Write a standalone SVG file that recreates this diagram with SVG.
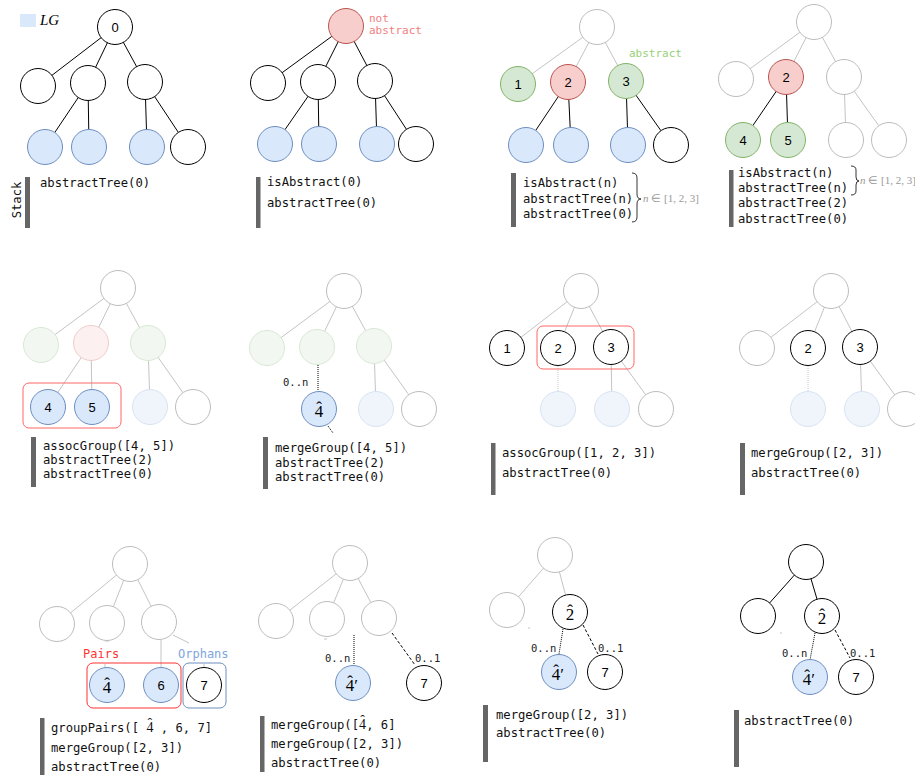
<svg xmlns="http://www.w3.org/2000/svg" width="915" height="775" viewBox="0 0 915 775">
<style>
.k{fill:#fff;stroke:#000;stroke-width:1}
.g{fill:#fff;stroke:#bcbcbc;stroke-width:1}
.b{fill:#dae8fc;stroke:#6c8ebf;stroke-width:1}
.r{fill:#f8cecc;stroke:#b85450;stroke-width:1}
.gr{fill:#d5e8d4;stroke:#82b366;stroke-width:1}
.fg{fill:#f2f8f1;stroke:#d9e8d5;stroke-width:1}
.fr{fill:#fcf0f0;stroke:#f0cccb;stroke-width:1}
.fb{fill:#f0f5fc;stroke:#d8e3f3;stroke-width:1}
.ek{stroke:#000;stroke-width:1;fill:none}
.eg{stroke:#c4c4c4;stroke-width:1;fill:none}
.dot{stroke:#000;stroke-width:1;stroke-dasharray:1 1;fill:none}
.dotg{stroke:#c8c8c8;stroke-width:1;stroke-dasharray:1 1;fill:none}
.dash{stroke:#000;stroke-width:1;stroke-dasharray:3 2;fill:none}
.bar{fill:#666}
.code{font-family:"DejaVu Sans Mono",monospace;font-size:12.2px;fill:#111}
.sm{font-family:"DejaVu Sans Mono",monospace;font-size:10.5px;fill:#222}
.lbl{font-family:"Liberation Sans",Arial,sans-serif;font-size:13px;fill:#000;text-anchor:middle}
.math{font-family:"Liberation Serif","Times New Roman",serif;font-size:17px;fill:#000}
.hm{font-family:"Liberation Serif","Times New Roman",serif;font-size:14px}
.brace{stroke:#000;stroke-width:0.8;fill:none}
.bt{font-family:"Liberation Serif","Times New Roman",serif;font-size:11px;fill:#999}
</style>

<g id="legend">
<rect x="20" y="14" width="16" height="13" fill="#dae8fc"/>
<text x="40" y="25" font-family="Liberation Serif,serif" font-style="italic" font-size="15">LG</text>
<text x="21" y="200" transform="rotate(-90 21 200)" class="code" text-anchor="middle">Stack</text>
</g>

<g id="connectors">
<line class="ek" x1="115" y1="27" x2="38" y2="86"/>
<line class="ek" x1="115" y1="27" x2="88" y2="83"/>
<line class="ek" x1="115" y1="27" x2="145" y2="82"/>
<line class="ek" x1="88" y1="83" x2="45" y2="147"/>
<line class="ek" x1="88" y1="83" x2="89" y2="147"/>
<line class="ek" x1="145" y1="82" x2="147" y2="147"/>
<line class="ek" x1="145" y1="82" x2="188" y2="147"/>
<line class="ek" x1="346" y1="26" x2="268" y2="83"/>
<line class="ek" x1="346" y1="26" x2="318" y2="82"/>
<line class="ek" x1="346" y1="26" x2="375" y2="81"/>
<line class="ek" x1="318" y1="82" x2="275" y2="144"/>
<line class="ek" x1="318" y1="82" x2="319" y2="144"/>
<line class="ek" x1="375" y1="81" x2="377" y2="144"/>
<line class="ek" x1="375" y1="81" x2="416" y2="144"/>
<line class="eg" x1="597" y1="27" x2="518" y2="84"/>
<line class="eg" x1="597" y1="27" x2="568" y2="82"/>
<line class="eg" x1="597" y1="27" x2="626" y2="81"/>
<line class="ek" x1="568" y1="82" x2="526" y2="145"/>
<line class="ek" x1="568" y1="82" x2="571" y2="145"/>
<line class="ek" x1="626" y1="81" x2="628" y2="145"/>
<line class="ek" x1="626" y1="81" x2="671" y2="145"/>
<line class="eg" x1="814" y1="22" x2="736" y2="79"/>
<line class="eg" x1="814" y1="22" x2="786" y2="77"/>
<line class="eg" x1="814" y1="22" x2="844" y2="77"/>
<line class="ek" x1="786" y1="77" x2="743" y2="140"/>
<line class="ek" x1="786" y1="77" x2="788" y2="140"/>
<line class="eg" x1="844" y1="77" x2="846" y2="140"/>
<line class="eg" x1="844" y1="77" x2="889" y2="140"/>
<line class="eg" x1="118" y1="288" x2="41" y2="345"/>
<line class="eg" x1="118" y1="288" x2="91" y2="343"/>
<line class="eg" x1="118" y1="288" x2="148" y2="343"/>
<line class="eg" x1="91" y1="343" x2="48" y2="407"/>
<line class="eg" x1="91" y1="343" x2="92" y2="407"/>
<line class="eg" x1="148" y1="343" x2="150" y2="407"/>
<line class="eg" x1="148" y1="343" x2="193" y2="407"/>
<line class="eg" x1="344" y1="291" x2="267" y2="348"/>
<line class="eg" x1="344" y1="291" x2="317" y2="347"/>
<line class="eg" x1="344" y1="291" x2="374" y2="346"/>
<line class="eg" x1="374" y1="346" x2="376" y2="409"/>
<line class="eg" x1="374" y1="346" x2="419" y2="409"/>
<line class="dot" x1="318" y1="365" x2="318" y2="391"/>
<line class="dot" x1="328" y1="426" x2="333" y2="433"/>
<line class="eg" x1="581" y1="291" x2="507" y2="348"/>
<line class="eg" x1="581" y1="291" x2="558" y2="348"/>
<line class="eg" x1="581" y1="291" x2="611" y2="347"/>
<line class="dotg" x1="558" y1="366" x2="558" y2="391"/>
<line class="eg" x1="611" y1="347" x2="612" y2="409"/>
<line class="eg" x1="611" y1="347" x2="656" y2="409"/>
<line class="eg" x1="831" y1="291" x2="757" y2="348"/>
<line class="eg" x1="831" y1="291" x2="808" y2="348"/>
<line class="eg" x1="831" y1="291" x2="860" y2="347"/>
<line class="dotg" x1="808" y1="366" x2="808" y2="391"/>
<line class="eg" x1="860" y1="347" x2="862" y2="409"/>
<line class="eg" x1="860" y1="347" x2="905" y2="409"/>
<line class="eg" x1="130" y1="564" x2="57" y2="624"/>
<line class="eg" x1="130" y1="564" x2="107" y2="623"/>
<line class="eg" x1="130" y1="564" x2="159" y2="622"/>
<line class="eg" x1="161" y1="640" x2="161" y2="667"/>
<line class="eg" x1="173" y1="635" x2="189" y2="643"/>
<line class="eg" x1="105" y1="641" x2="109" y2="641"/>
<line class="eg" x1="105" y1="664" x2="105" y2="668"/>
<line class="eg" x1="204" y1="664" x2="204" y2="668"/>
<line class="eg" x1="350" y1="563" x2="276" y2="621"/>
<line class="eg" x1="350" y1="563" x2="327" y2="619"/>
<line class="eg" x1="350" y1="563" x2="379" y2="618"/>
<line class="eg" x1="324" y1="639" x2="327" y2="639"/>
<line class="dot" x1="354" y1="635" x2="354" y2="665"/>
<line class="dash" x1="392" y1="633" x2="415" y2="665"/>
<line class="eg" x1="555" y1="555" x2="507" y2="610"/>
<line class="eg" x1="555" y1="555" x2="570" y2="612"/>
<line class="eg" x1="528" y1="628" x2="530" y2="628"/>
<line class="dot" x1="563" y1="629" x2="559" y2="654"/>
<line class="dash" x1="583" y1="625" x2="598" y2="654"/>
<line class="ek" x1="806" y1="562" x2="758" y2="616"/>
<line class="ek" x1="806" y1="562" x2="822" y2="616"/>
<line class="eg" x1="780" y1="633" x2="782" y2="633"/>
<line class="dot" x1="815" y1="633" x2="810" y2="660"/>
<line class="dash" x1="835" y1="630" x2="850" y2="658"/>
</g>

<g id="panel1">
<g id="p1-n0"><circle class="k" cx="115" cy="27" r="17.5"/><text class="lbl" x="115" y="32" font-size="12px">0</text></g>
<g id="p1-n1"><circle class="k" cx="38" cy="86" r="17.5"/></g>
<g id="p1-n2"><circle class="k" cx="88" cy="83" r="17.5"/></g>
<g id="p1-n3"><circle class="k" cx="145" cy="82" r="17.5"/></g>
<g id="p1-n4"><circle class="b" cx="45" cy="147" r="17.5"/></g>
<g id="p1-n5"><circle class="b" cx="89" cy="147" r="17.5"/></g>
<g id="p1-n6"><circle class="b" cx="147" cy="147" r="17.5"/></g>
<g id="p1-n7"><circle class="k" cx="188" cy="147" r="17.5"/></g>
<rect class="bar" x="25" y="177" width="5" height="51"/>
<text class="code" x="40" y="187">abstractTree(0)</text>
</g>

<g id="panel2">
<g id="p2-n0"><circle class="r" cx="346" cy="26" r="17.5"/></g>
<text font-family="DejaVu Sans Mono,monospace" font-size="11px" fill="#f08080" x="369" y="22">not</text>
<text font-family="DejaVu Sans Mono,monospace" font-size="11px" fill="#f08080" x="369" y="34">abstract</text>
<g id="p2-n1"><circle class="k" cx="268" cy="83" r="17.5"/></g>
<g id="p2-n2"><circle class="k" cx="318" cy="82" r="17.5"/></g>
<g id="p2-n3"><circle class="k" cx="375" cy="81" r="17.5"/></g>
<g id="p2-n4"><circle class="b" cx="275" cy="144" r="17.5"/></g>
<g id="p2-n5"><circle class="b" cx="319" cy="144" r="17.5"/></g>
<g id="p2-n6"><circle class="b" cx="377" cy="144" r="17.5"/></g>
<g id="p2-n7"><circle class="k" cx="416" cy="144" r="17.5"/></g>
<rect class="bar" x="256" y="177" width="4.5" height="51"/>
<text class="code" x="267" y="186">isAbstract(0)</text>
<text class="code" x="267" y="207">abstractTree(0)</text>
</g>

<g id="panel3">
<g id="p3-n0"><circle class="g" cx="597" cy="27" r="17.5"/></g>
<g id="p3-n1"><circle class="gr" cx="518" cy="84" r="17.5"/><text class="lbl" x="518" y="89">1</text></g>
<g id="p3-n2"><circle class="r" cx="568" cy="82" r="17.5"/><text class="lbl" x="568" y="87">2</text></g>
<g id="p3-n3"><circle class="gr" cx="626" cy="81" r="17.5"/><text class="lbl" x="626" y="86">3</text></g>
<text font-family="DejaVu Sans Mono,monospace" font-size="11px" fill="#97d077" x="629" y="57">abstract</text>
<g id="p3-n4"><circle class="b" cx="526" cy="145" r="17.5"/></g>
<g id="p3-n5"><circle class="b" cx="571" cy="145" r="17.5"/></g>
<g id="p3-n6"><circle class="b" cx="628" cy="145" r="17.5"/></g>
<g id="p3-n7"><circle class="k" cx="671" cy="145" r="17.5"/></g>
<rect class="bar" x="511" y="173" width="5" height="54"/>
<text class="code" x="523" y="187">isAbstract(n)</text>
<text class="code" x="523" y="203">abstractTree(n)</text>
<text class="code" x="523" y="218">abstractTree(0)</text>
<path class="brace" d="M632,173 Q637,173 637,178 L637,194 Q637,199 641,199 Q637,199 637,204 L637,217 Q637,222 632,222"/>
<text class="bt" x="643" y="202"><tspan font-style="italic">n</tspan> ∈ [1, 2, 3]</text>
</g>

<g id="panel4">
<g id="p4-n0"><circle class="g" cx="814" cy="22" r="17.5"/></g>
<g id="p4-n1"><circle class="g" cx="736" cy="79" r="17.5"/></g>
<g id="p4-n2"><circle class="r" cx="786" cy="77" r="17.5"/><text class="lbl" x="786" y="82">2</text></g>
<g id="p4-n3"><circle class="g" cx="844" cy="77" r="17.5"/></g>
<g id="p4-n4"><circle class="gr" cx="743" cy="140" r="17.5"/><text class="lbl" x="743" y="145">4</text></g>
<g id="p4-n5"><circle class="gr" cx="788" cy="140" r="17.5"/><text class="lbl" x="788" y="145">5</text></g>
<g id="p4-n6"><circle class="g" cx="846" cy="140" r="17.5"/></g>
<g id="p4-n7"><circle class="g" cx="889" cy="140" r="17.5"/></g>
<rect class="bar" x="729" y="170" width="4.5" height="57"/>
<text class="code" x="738" y="177">isAbstract(n)</text>
<text class="code" x="738" y="192">abstractTree(n)</text>
<text class="code" x="738" y="207">abstractTree(2)</text>
<text class="code" x="738" y="223">abstractTree(0)</text>
<path class="brace" d="M851,166 Q856,166 856,170 L856,177 Q856,181 859,181 Q856,181 856,185 L856,191 Q856,195 851,195"/>
<text class="bt" x="860" y="184" font-size="10.5px"><tspan font-style="italic">n</tspan> ∈ [1, 2, 3]</text>
</g>

<g id="panel5">
<g id="p5-n0"><circle class="g" cx="118" cy="288" r="17.5"/></g>
<g id="p5-n1"><circle class="fg" cx="41" cy="345" r="17.5"/></g>
<g id="p5-n2"><circle class="fr" cx="91" cy="343" r="17.5"/></g>
<g id="p5-n3"><circle class="fg" cx="148" cy="343" r="17.5"/></g>
<rect x="23" y="383" width="98" height="45" rx="6" fill="none" stroke="#ff6666" stroke-width="1"/>
<g id="p5-n4"><circle class="b" cx="48" cy="407" r="17.5"/><text class="lbl" x="48" y="412">4</text></g>
<g id="p5-n5"><circle class="b" cx="92" cy="407" r="17.5"/><text class="lbl" x="92" y="412">5</text></g>
<g id="p5-n6"><circle class="fb" cx="150" cy="407" r="17.5"/></g>
<g id="p5-n7"><circle class="g" cx="193" cy="407" r="17.5"/></g>
<rect class="bar" x="31" y="437" width="5" height="50"/>
<text class="code" x="43" y="450">assocGroup([4, 5])</text>
<text class="code" x="43" y="464">abstractTree(2)</text>
<text class="code" x="43" y="478">abstractTree(0)</text>
</g>

<g id="panel6">
<g id="p6-n0"><circle class="g" cx="344" cy="291" r="17.5"/></g>
<g id="p6-n1"><circle class="fg" cx="267" cy="348" r="17.5"/></g>
<g id="p6-n2"><circle class="fg" cx="317" cy="347" r="17.5"/></g>
<g id="p6-n3"><circle class="fg" cx="374" cy="346" r="17.5"/></g>
<text class="sm" x="283" y="386">0..n</text>
<g id="p6-n4"><circle class="b" cx="319" cy="409" r="17.5"/><text class="math" x="314.75" y="417">4<tspan dx="-7.1" dy="-4.5">ˆ</tspan></text></g>
<g id="p6-n6"><circle class="fb" cx="376" cy="409" r="17.5"/></g>
<g id="p6-n7"><circle class="g" cx="419" cy="409" r="17.5"/></g>
<rect class="bar" x="263" y="437" width="5" height="52"/>
<text class="code" x="275" y="452">mergeGroup([4, 5])</text>
<text class="code" x="275" y="467">abstractTree(2)</text>
<text class="code" x="275" y="481">abstractTree(0)</text>
</g>

<g id="panel7">
<g id="p7-n0"><circle class="g" cx="581" cy="291" r="17.5"/></g>
<g id="p7-n1"><circle class="k" cx="507" cy="348" r="17.5"/><text class="lbl" x="507" y="353">1</text></g>
<g id="p7-n2"><circle class="k" cx="558" cy="348" r="17.5"/><text class="lbl" x="558" y="353">2</text></g>
<g id="p7-n3"><circle class="k" cx="611" cy="347" r="17.5"/><text class="lbl" x="611" y="352">3</text></g>
<rect x="537" y="326" width="97" height="43" rx="6" fill="none" stroke="#ff6666" stroke-width="1"/>
<g id="p7-n4"><circle class="fb" cx="558" cy="409" r="17.5"/></g>
<g id="p7-n6"><circle class="fb" cx="612" cy="409" r="17.5"/></g>
<g id="p7-n7"><circle class="g" cx="656" cy="409" r="17.5"/></g>
<rect class="bar" x="491" y="443" width="4.5" height="52"/>
<text class="code" x="502" y="457">assocGroup([1, 2, 3])</text>
<text class="code" x="502" y="477">abstractTree(0)</text>
</g>

<g id="panel8">
<g id="p8-n0"><circle class="g" cx="831" cy="291" r="17.5"/></g>
<g id="p8-n1"><circle class="g" cx="757" cy="348" r="17.5"/></g>
<g id="p8-n2"><circle class="k" cx="808" cy="348" r="17.5"/><text class="lbl" x="808" y="353">2</text></g>
<g id="p8-n3"><circle class="k" cx="860" cy="347" r="17.5"/><text class="lbl" x="860" y="352">3</text></g>
<g id="p8-n4"><circle class="fb" cx="808" cy="409" r="17.5"/></g>
<g id="p8-n6"><circle class="fb" cx="862" cy="409" r="17.5"/></g>
<g id="p8-n7"><circle class="g" cx="905" cy="409" r="17.5"/></g>
<rect class="bar" x="740" y="443" width="5" height="52"/>
<text class="code" x="751" y="457">mergeGroup([2, 3])</text>
<text class="code" x="751" y="477">abstractTree(0)</text>
</g>

<g id="panel9">
<g id="p9-n0"><circle class="g" cx="130" cy="564" r="17.5"/></g>
<g id="p9-n1"><circle class="g" cx="57" cy="624" r="17.5"/></g>
<g id="p9-n2"><circle class="g" cx="107" cy="623" r="17.5"/></g>
<g id="p9-n3"><circle class="g" cx="159" cy="622" r="17.5"/></g>
<text font-family="DejaVu Sans Mono,monospace" font-size="12px" fill="#ff3333" x="83" y="658">Pairs</text>
<text font-family="DejaVu Sans Mono,monospace" font-size="12px" fill="#7ea6e0" x="178" y="658">Orphans</text>
<rect x="87" y="663" width="94" height="45" rx="6" fill="none" stroke="#ff3333" stroke-width="1"/>
<rect x="183" y="663" width="43" height="45" rx="6" fill="none" stroke="#6c8ebf" stroke-width="1"/>
<g id="p9-n4"><circle class="b" cx="107" cy="685" r="17.5"/><text class="math" x="102.75" y="693">4<tspan dx="-7.1" dy="-4.5">ˆ</tspan></text></g>
<g id="p9-n6"><circle class="b" cx="161" cy="685" r="17.5"/><text class="lbl" x="161" y="690">6</text></g>
<g id="p9-n7"><circle class="k" cx="204" cy="685" r="17.5"/><text class="lbl" x="204" y="690">7</text></g>
<rect class="bar" x="40" y="718" width="4.5" height="57"/>
<text class="code" x="51" y="732">groupPairs([ <tspan class="hm">4</tspan><tspan class="hm" dx="-5.8" dy="-3.7">ˆ</tspan><tspan dx="1.2" dy="3.7"> , 6, 7]</tspan></text>
<text class="code" x="51" y="752">mergeGroup([2, 3])</text>
<text class="code" x="51" y="771">abstractTree(0)</text>
</g>

<g id="panel10">
<g id="p10-n0"><circle class="g" cx="350" cy="563" r="17.5"/></g>
<g id="p10-n1"><circle class="g" cx="276" cy="621" r="17.5"/></g>
<g id="p10-n2"><circle class="g" cx="327" cy="619" r="17.5"/></g>
<g id="p10-n3"><circle class="g" cx="379" cy="618" r="17.5"/></g>
<text class="sm" x="325" y="662">0..n</text>
<text class="sm" x="415" y="662">0..1</text>
<g id="p10-n4"><circle class="b" cx="353" cy="683" r="17.5"/><text class="math" x="345.75" y="691">4<tspan dx="-7.1" dy="-4.5">ˆ</tspan><tspan dx="1.4" dy="4.5">′</tspan></text></g>
<g id="p10-n7"><circle class="k" cx="424" cy="683" r="17.5"/><text class="lbl" x="424" y="688">7</text></g>
<rect class="bar" x="260" y="716" width="4.5" height="56"/>
<text class="code" x="271" y="729">mergeGroup([<tspan class="hm">4</tspan><tspan class="hm" dx="-5.8" dy="-3.7">ˆ</tspan><tspan dx="1.2" dy="3.7">, 6]</tspan></text>
<text class="code" x="271" y="748">mergeGroup([2, 3])</text>
<text class="code" x="271" y="767">abstractTree(0)</text>
</g>

<g id="panel11">
<g id="p11-n0"><circle class="g" cx="555" cy="555" r="17.5"/></g>
<g id="p11-n1"><circle class="g" cx="507" cy="610" r="17.5"/></g>
<g id="p11-n2"><circle class="k" cx="570" cy="612" r="17.5"/><text class="math" x="565.75" y="620">2<tspan dx="-7.1" dy="-4.5">ˆ</tspan></text></g>
<text class="sm" x="531" y="652">0..n</text>
<text class="sm" x="598" y="652">0..1</text>
<g id="p11-n4"><circle class="b" cx="559" cy="672" r="17.5"/><text class="math" x="551.75" y="680">4<tspan dx="-7.1" dy="-4.5">ˆ</tspan><tspan dx="1.4" dy="4.5">′</tspan></text></g>
<g id="p11-n7"><circle class="k" cx="605" cy="672" r="17.5"/><text class="lbl" x="605" y="677">7</text></g>
<rect class="bar" x="483" y="705" width="5" height="57"/>
<text class="code" x="496" y="719">mergeGroup([2, 3])</text>
<text class="code" x="496" y="737">abstractTree(0)</text>
</g>

<g id="panel12">
<g id="p12-n0"><circle class="k" cx="806" cy="562" r="17.5"/></g>
<g id="p12-n1"><circle class="k" cx="758" cy="616" r="17.5"/></g>
<g id="p12-n2"><circle class="k" cx="822" cy="616" r="17.5"/><text class="math" x="817.75" y="624">2<tspan dx="-7.1" dy="-4.5">ˆ</tspan></text></g>
<text class="sm" x="782" y="657">0..n</text>
<text class="sm" x="850" y="657">0..1</text>
<g id="p12-n4"><circle class="b" cx="810" cy="677" r="17.5"/><text class="math" x="802.75" y="685">4<tspan dx="-7.1" dy="-4.5">ˆ</tspan><tspan dx="1.4" dy="4.5">′</tspan></text></g>
<g id="p12-n7"><circle class="k" cx="856" cy="677" r="17.5"/><text class="lbl" x="856" y="682">7</text></g>
<rect class="bar" x="734" y="710" width="5" height="57"/>
<text class="code" x="744" y="725">abstractTree(0)</text>
</g>
</svg>
